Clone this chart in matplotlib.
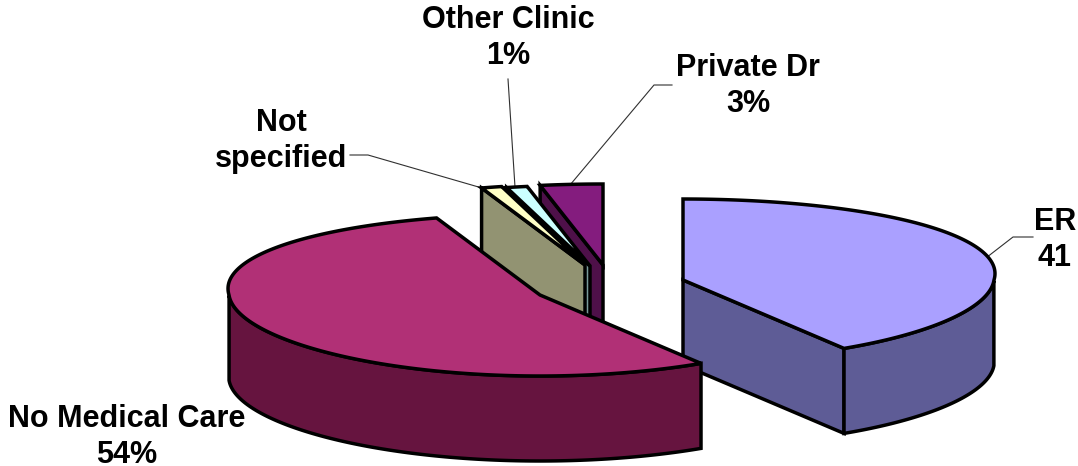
import numpy as np
from matplotlib import pyplot as plt
from matplotlib.patches import Polygon

# slices, clockwise from 12 o'clock
names = ["ER", "No Medical Care", "Not specified", "Other Clinic", "Private Dr"]
values = [41, 54, 1, 1, 3]
labels = ["ER\n41", "No Medical Care\n54%", "Not\nspecified", "Other Clinic\n1%", "Private Dr\n3%"]
top_colors = ["#AAA0FF", "#B13076", "#FFFFC6", "#CCFFFF", "#841C7E"]
side_colors = ["#5E5C96", "#66143F", "#929372", "#7A9A9A", "#4E1049"]

# where each exploded slice has its tip, in pixels
tips = [(683, 280), (540, 295), (585, 265), (590, 266), (603, 265)]
label_pos = [(1055, 240), (127, 437), (281, 141), (508, 38), (748, 86)]
leaders = [
    [(1033, 237), (1013, 237), (982, 261)],
    [],
    [(350, 155), (368, 155), (482, 188)],
    [(508, 79), (515, 187)],
    [(672, 85), (654, 85), (570, 185)],
]
draw_order = [0, 4, 3, 2, 1]

RX, RY, DEPTH = 311, 81, 85
SKEW_BACK, SKEW_FRONT = 0.08, 0.04

plt.rcParams["font.family"] = ["Liberation Sans", "DejaVu Sans"]


def rim(tip, a):
    # point on the tilted circle, a in degrees (back of the pie is a bit wider)
    r = np.radians(a)
    s = np.sin(r)
    x = tip[0] + RX * np.cos(r) * (1 + np.where(s > 0, SKEW_BACK, SKEW_FRONT) * s)
    y = tip[1] - RY * s
    return np.column_stack([x, y])


def draw_face(ax, pts, color, z):
    ax.add_patch(Polygon(pts, closed=True, facecolor=color, edgecolor="black",
                         lw=2.5, joinstyle="miter", zorder=z))


def draw_wall(ax, pts, color, z):
    low = pts + np.array([0, DEPTH])
    draw_face(ax, np.vstack([pts, low[::-1]]), color, z)


fig = plt.figure(figsize=(10.78, 4.66), dpi=100)
ax = fig.add_axes([0, 0, 1, 1])
ax.set_xlim(0, 1078)
ax.set_ylim(466, 0)
ax.axis("off")

# start and end angle of every slice
ends = 90 - np.cumsum(values) / sum(values) * 360
starts = np.concatenate([[90], ends[:-1]])

z = 2
for i in draw_order:
    tip = np.array([tips[i]], dtype=float)
    a0, a1 = starts[i], ends[i]
    arc = np.linspace(a0, a1, 200)

    # radial walls that face the viewer
    if np.cos(np.radians(a0)) < -1e-6:
        draw_wall(ax, np.vstack([rim(tips[i], np.array([a0])), tip]), side_colors[i], z)
    if np.cos(np.radians(a1)) > 1e-6:
        draw_wall(ax, np.vstack([tip, rim(tips[i], np.array([a1]))]), side_colors[i], z)
    z += 1

    # outer wall, only the front half of the rim
    front = arc[np.sin(np.radians(arc)) <= 0]
    if len(front) > 1:
        draw_wall(ax, rim(tips[i], front), side_colors[i], z)
    z += 1

    draw_face(ax, np.vstack([tip, rim(tips[i], arc)]), top_colors[i], z)
    z += 1

for pts in leaders:
    if pts:
        xs, ys = zip(*pts)
        ax.plot(xs, ys, color="#303030", lw=0.8, zorder=1)

for lab, (x, y) in zip(labels, label_pos):
    ax.text(x, y, lab, ha="center", va="center", fontsize=22, fontweight="bold",
            color="black", linespacing=1.27, zorder=50)

fig.savefig("out.png", dpi=100, facecolor="white")
